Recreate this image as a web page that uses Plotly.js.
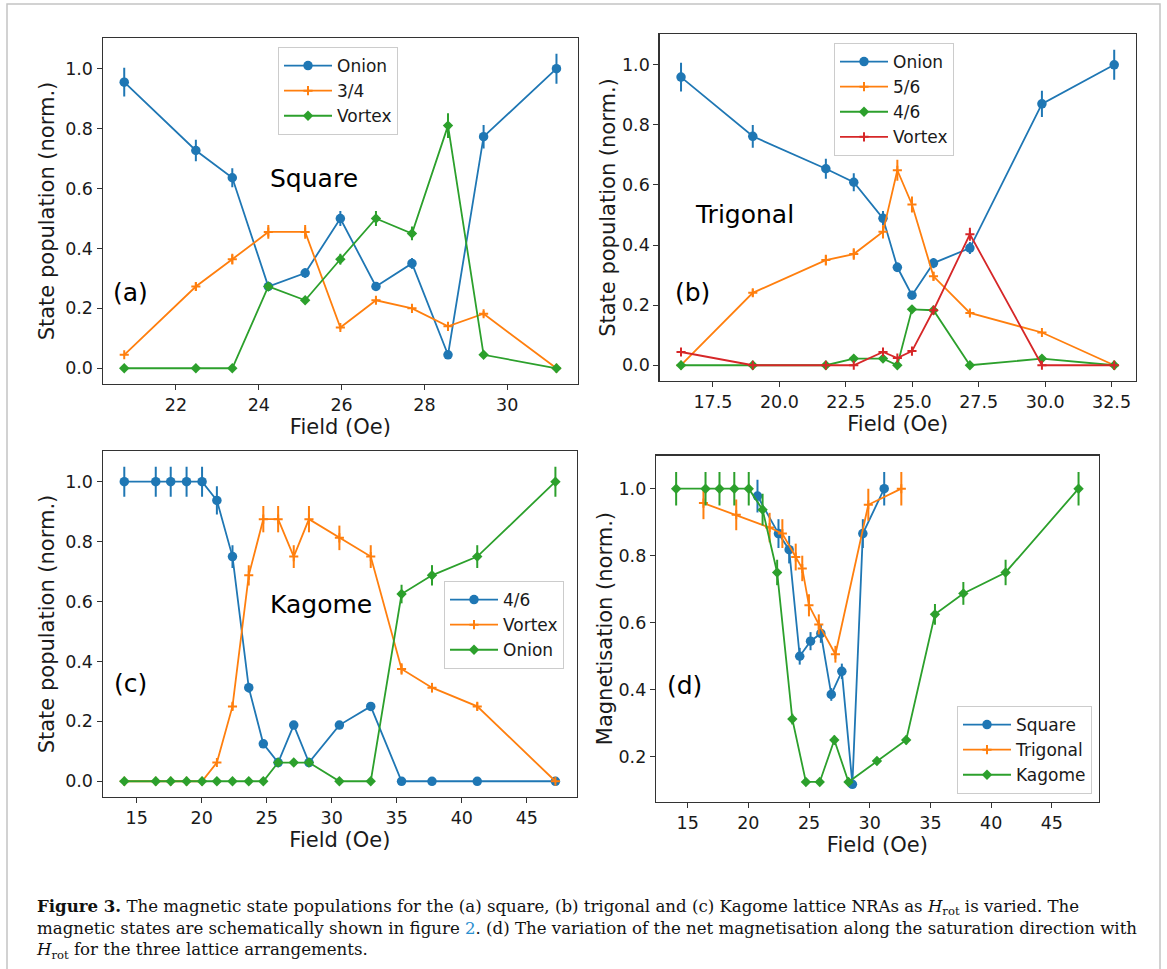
<!DOCTYPE html>
<html>
<head>
<meta charset="utf-8">
<script src="https://cdn.plot.ly/plotly-3.0.1.min.js"></script>
<style>html,body{margin:0;padding:0;background:#fff;}#chart{width:1167px;height:969px;}</style>
</head>
<body>
<div id="chart"></div>
<script>
// ---------- data ----------
// (a) Square lattice
const squareField = [20.75, 22.48, 23.36, 24.23, 25.12, 25.97, 26.83, 27.70, 28.57, 29.43, 31.19];
const squareOnion = [0.955, 0.727, 0.636, 0.273, 0.318, 0.5, 0.273, 0.35, 0.045, 0.773, 1.0];
const squareOnionErr = [0.048, 0.036, 0.032, 0.014, 0.016, 0.025, 0.014, 0.018, 0.002, 0.039, 0.05];
const square34 = [0.045, 0.273, 0.364, 0.455, 0.455, 0.136, 0.227, 0.2, 0.14, 0.182, 0.0];
const square34Err = [0.002, 0.014, 0.018, 0.023, 0.023, 0.007, 0.011, 0.01, 0.007, 0.009, 0.0];
const squareVortex = [0.0, 0.0, 0.0, 0.273, 0.227, 0.364, 0.5, 0.45, 0.81, 0.045, 0.0];
const squareVortexErr = [0.0, 0.0, 0.0, 0.014, 0.011, 0.018, 0.025, 0.023, 0.041, 0.002, 0.0];

// (b) Trigonal lattice
const trigField = [16.3, 19.0, 21.75, 22.8, 23.9, 24.44, 24.99, 25.8, 27.17, 29.88, 32.6];
const trigOnion = [0.959, 0.762, 0.654, 0.609, 0.489, 0.326, 0.233, 0.34, 0.39, 0.87, 1.0];
const trigOnionErr = [0.048, 0.038, 0.033, 0.03, 0.024, 0.016, 0.012, 0.017, 0.02, 0.044, 0.05];
const trig56 = [0.0, 0.241, 0.35, 0.37, 0.444, 0.649, 0.535, 0.296, 0.174, 0.109, 0.0];
const trig56Err = [0.0, 0.012, 0.018, 0.019, 0.022, 0.035, 0.027, 0.015, 0.009, 0.005, 0.0];
const trig46 = [0.0, 0.0, 0.0, 0.022, 0.022, 0.0, 0.186, 0.183, 0.0, 0.022, 0.0];
const trig46Err = [0.0, 0.0, 0.0, 0.001, 0.001, 0.0, 0.009, 0.009, 0.0, 0.001, 0.0];
const trigVortex = [0.044, 0.0, 0.0, 0.0, 0.044, 0.024, 0.047, 0.183, 0.436, 0.0, 0.0];
const trigVortexErr = [0.002, 0.0, 0.0, 0.0, 0.002, 0.001, 0.002, 0.009, 0.022, 0.0, 0.0];

// (c) Kagome lattice
const kagField = [14.05, 16.47, 17.62, 18.84, 20.03, 21.17, 22.37, 23.62, 24.74, 25.88, 27.08, 28.25, 30.59, 33.0, 35.37, 37.71, 41.19, 47.2];
const kag46 = [1, 1, 1, 1, 1, 0.9375, 0.75, 0.3125, 0.125, 0.0625, 0.1875, 0.0625, 0.1875, 0.25, 0, 0, 0, 0];
const kag46Err = [0.05, 0.05, 0.05, 0.05, 0.05, 0.047, 0.038, 0.016, 0.006, 0.003, 0.009, 0.003, 0.009, 0.013, 0, 0, 0, 0];
const kagVortex = [0, 0, 0, 0, 0, 0.0625, 0.25, 0.6875, 0.875, 0.875, 0.75, 0.875, 0.8125, 0.75, 0.375, 0.3125, 0.25, 0];
const kagVortexErr = [0, 0, 0, 0, 0, 0.003, 0.013, 0.034, 0.044, 0.044, 0.038, 0.044, 0.041, 0.038, 0.019, 0.016, 0.013, 0];
const kagOnion = [0, 0, 0, 0, 0, 0, 0, 0, 0, 0.0625, 0.0625, 0.0625, 0, 0, 0.625, 0.6875, 0.75, 1.0];
const kagOnionErr = [0, 0, 0, 0, 0, 0, 0, 0, 0, 0.003, 0.003, 0.003, 0, 0, 0.031, 0.034, 0.038, 0.05];

// (d) Net magnetisation
const magSquare = [0.978, 0.866, 0.818, 0.5, 0.545, 0.568, 0.386, 0.455, 0.118, 0.866, 1.0];
const magSquareErr = [0.049, 0.043, 0.041, 0.025, 0.027, 0.028, 0.019, 0.023, 0.006, 0.043, 0.05];
const magTrig = [0.957, 0.922, 0.884, 0.866, 0.796, 0.762, 0.652, 0.595, 0.506, 0.952, 1.0];
const magTrigErr = [0.048, 0.046, 0.044, 0.043, 0.04, 0.038, 0.033, 0.03, 0.025, 0.048, 0.05];
const magKagome = [1, 1, 1, 1, 1, 0.9375, 0.75, 0.3125, 0.125, 0.125, 0.25, 0.125, 0.1875, 0.25, 0.625, 0.6875, 0.75, 1.0];
const magKagomeErr = [0.05, 0.05, 0.05, 0.05, 0.05, 0.047, 0.038, 0.016, 0.006, 0.006, 0.013, 0.006, 0.009, 0.013, 0.031, 0.034, 0.038, 0.05];

// caption text lines
const captionLines = [
  '<b>Figure 3.</b> The magnetic state populations for the (a) square, (b) trigonal and (c) Kagome lattice NRAs as <i>H</i><sub>rot</sub> is varied. The',
  'magnetic states are schematically shown in figure <span style="color:#2b8fcf">2</span>. (d) The variation of the net magnetisation along the saturation direction with',
  '<i>H</i><sub>rot</sub> for the three lattice arrangements.'
];

// ---------- styling helpers ----------
const W = 1167, H = 969;
const fx = p => p / W;
const fy = p => 1 - p / H;
const C = {blue: '#1f77b4', orange: '#ff7f0e', green: '#2ca02c', red: '#d62728'};
const SANS = 'DejaVu Sans, sans-serif';

function series(x, y, err, name, color, kind, ax, leg) {
  const marker = {color: color};
  if (kind === 'o') { marker.symbol = 'circle'; marker.size = 9.5; marker.line = {width: 0}; }
  else if (kind === 'D') { marker.symbol = 'diamond'; marker.size = 8; marker.line = {width: 0}; }
  else { marker.symbol = 'cross-thin'; marker.size = 6.5; marker.line = {width: 2, color: color}; }
  return {
    type: 'scatter', mode: 'lines+markers', x: x, y: y, name: name,
    xaxis: 'x' + ax, yaxis: 'y' + ax, legend: leg,
    line: {color: color, width: 1.8}, marker: marker,
    error_y: {type: 'data', array: err, visible: true, color: color, thickness: 2, width: 0},
    hoverinfo: 'x+y+name'
  };
}

const data = [
  series(squareField, squareOnion, squareOnionErr, 'Onion', C.blue, 'o', '', 'legend'),
  series(squareField, square34, square34Err, '3/4', C.orange, '+', '', 'legend'),
  series(squareField, squareVortex, squareVortexErr, 'Vortex', C.green, 'D', '', 'legend'),

  series(trigField, trigOnion, trigOnionErr, 'Onion', C.blue, 'o', '2', 'legend2'),
  series(trigField, trig56, trig56Err, '5/6', C.orange, '+', '2', 'legend2'),
  series(trigField, trig46, trig46Err, '4/6', C.green, 'D', '2', 'legend2'),
  series(trigField, trigVortex, trigVortexErr, 'Vortex', C.red, '+', '2', 'legend2'),

  series(kagField, kag46, kag46Err, '4/6', C.blue, 'o', '3', 'legend3'),
  series(kagField, kagVortex, kagVortexErr, 'Vortex', C.orange, '+', '3', 'legend3'),
  series(kagField, kagOnion, kagOnionErr, 'Onion', C.green, 'D', '3', 'legend3'),

  series(squareField, magSquare, magSquareErr, 'Square', C.blue, 'o', '4', 'legend4'),
  series(trigField, magTrig, magTrigErr, 'Trigonal', C.orange, '+', '4', 'legend4'),
  series(kagField, magKagome, magKagomeErr, 'Kagome', C.green, 'D', '4', 'legend4')
];

const tickFont = {family: SANS, size: 17.5, color: '#1a1a1a'};
const titleFont = {family: SANS, size: 21, color: '#1a1a1a'};
function xax(dom, range, dtick, fmt, anchor) {
  return {domain: dom, range: range, anchor: anchor, dtick: dtick, tick0: 0, tickformat: fmt,
    showline: true, mirror: true, linecolor: '#333', linewidth: 1.2, ticks: 'outside', ticklen: 5,
    tickcolor: '#333', showgrid: false, zeroline: false, tickfont: tickFont, automargin: false,
    title: {text: 'Field (Oe)', font: titleFont, standoff: 1}};
}
function yax(dom, range, anchor, title, standoff) {
  return {domain: dom, range: range, anchor: anchor, dtick: 0.2, tick0: 0, tickformat: '.1f',
    showline: true, mirror: true, linecolor: '#333', linewidth: 1.2, ticks: 'outside', ticklen: 5,
    tickcolor: '#333', showgrid: false, zeroline: false, tickfont: tickFont, automargin: false,
    title: {text: title, font: titleFont, standoff: standoff}};
}
function legendAt(x, y) {
  return {x: fx(x), y: fy(y), xanchor: 'left', yanchor: 'top', xref: 'paper', yref: 'paper',
    bgcolor: 'rgba(255,255,255,0.85)', bordercolor: '#cccccc', borderwidth: 1,
    font: {family: SANS, size: 17, color: '#1a1a1a'}, itemwidth: 48, traceorder: 'normal'};
}
function label(x, y, text, size) {
  return {x: fx(x), y: fy(y), xref: 'paper', yref: 'paper', text: text, showarrow: false,
    xanchor: 'center', yanchor: 'middle', font: {family: SANS, size: size, color: '#000'}};
}

const YA = [-0.0525, 1.1025];
const layout = {
  width: W, height: H, margin: {l: 0, r: 0, t: 0, b: 0},
  paper_bgcolor: '#ffffff', plot_bgcolor: '#ffffff', showlegend: true,
  xaxis: xax([fx(102.7), fx(578)], [20.23, 31.71], 2, 'd', 'y'),
  yaxis: yax([fy(384), fy(38)], YA, 'x', 'State population (norm.)', 4),
  xaxis2: xax([fx(659.5), fx(1136)], [15.49, 33.42], 2.5, '.1f', 'y2'),
  yaxis2: yax([fy(381), fy(34)], YA, 'x2', 'State population (norm.)', 0),
  xaxis3: xax([fx(102.7), fx(577)], [12.39, 48.86], 5, 'd', 'y3'),
  yaxis3: yax([fy(797), fy(451)], YA, 'x3', 'State population (norm.)', 4),
  xaxis4: xax([fx(656), fx(1098.7)], [12.39, 48.86], 5, 'd', 'y4'),
  yaxis4: yax([fy(801.7), fy(455.5)], [0.066, 1.099], 'x4', 'Magnetisation (norm.)', 0),
  legend: legendAt(278, 47),
  legend2: legendAt(834, 43),
  legend3: legendAt(444, 581),
  legend4: legendAt(957, 706),
  annotations: [
    label(314, 178, 'Square', 25),
    label(130, 292, '(a)', 25),
    label(744, 215, 'Trigonal', 25),
    label(692, 292, '(b)', 25),
    label(321, 604, 'Kagome', 25),
    label(130, 683, '(c)', 25),
    label(684, 685, '(d)', 25),
    {x: fx(34), y: fy(894), xref: 'paper', yref: 'paper', xanchor: 'left', yanchor: 'top',
     align: 'left', showarrow: false, text: captionLines.join('<br>'),
     font: {family: 'DejaVu Serif, serif', size: 16.6, color: '#111'}}
  ],
  shapes: [
    {type: 'rect', xref: 'paper', yref: 'paper', x0: fx(7), x1: fx(1160), y0: fy(4), y1: -0.05,
     line: {color: '#c4c4c4', width: 1.5}, layer: 'below'}
  ]
};

Plotly.newPlot('chart', data, layout, {displayModeBar: false, staticPlot: true});
</script>
</body>
</html>
